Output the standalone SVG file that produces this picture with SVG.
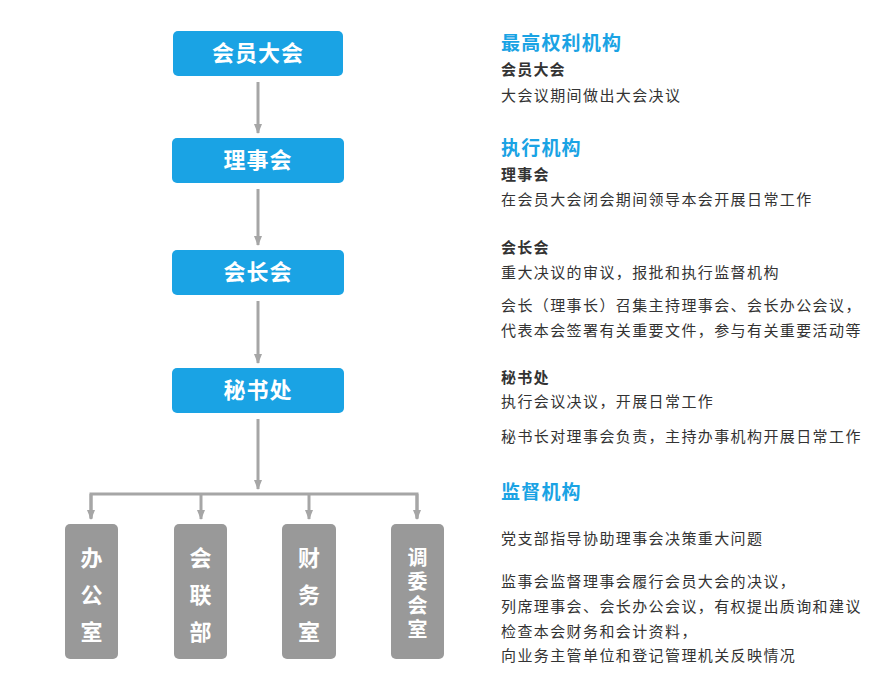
<svg xmlns="http://www.w3.org/2000/svg" width="880" height="691" viewBox="0 0 880 691">
<defs>
<marker id="ah" markerWidth="10" markerHeight="8" refX="9" refY="4" orient="auto" markerUnits="userSpaceOnUse">
<path d="M0,0 L10,4 L0,8 Z" fill="#a6a6a6"/>
</marker>
<style>
.blue{fill:#1aa3e4}
.gray{fill:#999999}
.bt{font-family:"Noto Sans CJK SC",sans-serif;font-weight:bold;font-size:22px;fill:#ffffff;text-anchor:middle;letter-spacing:1px}
.vt{font-family:"Noto Sans CJK SC",sans-serif;font-weight:bold;font-size:22px;fill:#ffffff;text-anchor:middle;writing-mode:vertical-rl;letter-spacing:15px}
.vt4{font-family:"Noto Sans CJK SC",sans-serif;font-weight:bold;font-size:20px;fill:#ffffff;text-anchor:middle;writing-mode:vertical-rl;letter-spacing:4px}
.ln{stroke:#a6a6a6;stroke-width:3;fill:none}
.h{font-family:"Noto Sans CJK SC",sans-serif;font-weight:bold;font-size:19px;fill:#1aa3e4;letter-spacing:1.2px}
.s{font-family:"Noto Sans CJK SC",sans-serif;font-weight:bold;font-size:15px;fill:#333333;letter-spacing:1.2px}
.t{font-family:"Noto Sans CJK SC",sans-serif;font-size:15px;fill:#333333;letter-spacing:1.4px}
</style>
</defs>
<rect width="880" height="691" fill="#ffffff"/>
<g id="connectors">
<line class="ln" x1="258" y1="82" x2="258" y2="133" marker-end="url(#ah)"/>
<line class="ln" x1="258" y1="189" x2="258" y2="245" marker-end="url(#ah)"/>
<line class="ln" x1="258" y1="301" x2="258" y2="363" marker-end="url(#ah)"/>
<line class="ln" x1="258" y1="419" x2="258" y2="489" marker-end="url(#ah)"/>
<polyline class="ln" points="91,518 91,494 417,494 417,518"/>
<line class="ln" x1="91" y1="494" x2="91" y2="519" marker-end="url(#ah)"/>
<line class="ln" x1="201" y1="494" x2="201" y2="519" marker-end="url(#ah)"/>
<line class="ln" x1="309" y1="494" x2="309" y2="519" marker-end="url(#ah)"/>
<line class="ln" x1="417" y1="494" x2="417" y2="519" marker-end="url(#ah)"/>
</g>
<g id="n1"><rect class="blue" x="173" y="31" width="170" height="45" rx="5"/><text class="bt" x="258" y="61">会员大会</text></g>
<g id="n2"><rect class="blue" x="172" y="138" width="172" height="45" rx="5"/><text class="bt" x="258" y="168">理事会</text></g>
<g id="n3"><rect class="blue" x="172" y="250" width="172" height="45" rx="5"/><text class="bt" x="258" y="280">会长会</text></g>
<g id="n4"><rect class="blue" x="172" y="368" width="172" height="45" rx="5"/><text class="bt" x="258" y="398">秘书处</text></g>
<g id="n5"><rect class="gray" x="65" y="524" width="53" height="135" rx="5"/>
<text class="vt" x="91.5" y="602.5">办公室</text></g>
<g id="n6"><rect class="gray" x="174" y="524" width="53" height="135" rx="5"/>
<text class="vt" x="200.5" y="602.5">会联部</text></g>
<g id="n7"><rect class="gray" x="282" y="524" width="54" height="135" rx="5"/>
<text class="vt" x="309" y="602.5">财务室</text></g>
<g id="n8"><rect class="gray" x="391" y="524" width="53" height="135" rx="5"/>
<text class="vt4" x="417.5" y="595.5">调委会室</text></g>
<g id="desc">
<text class="h" x="501" y="50">最高权利机构</text>
<text class="s" x="501" y="75">会员大会</text>
<text class="t" x="501" y="101">大会议期间做出大会决议</text>
<text class="h" x="501" y="155">执行机构</text>
<text class="s" x="501" y="180">理事会</text>
<text class="t" x="501" y="205">在会员大会闭会期间领导本会开展日常工作</text>
<text class="s" x="501" y="253">会长会</text>
<text class="t" x="501" y="278">重大决议的审议，报批和执行监督机构</text>
<text class="t" x="501" y="311">会长（理事长）召集主持理事会、会长办公会议，</text>
<text class="t" x="501" y="336">代表本会签署有关重要文件，参与有关重要活动等</text>
<text class="s" x="501" y="383">秘书处</text>
<text class="t" x="501" y="407">执行会议决议，开展日常工作</text>
<text class="t" x="501" y="442">秘书长对理事会负责，主持办事机构开展日常工作</text>
<text class="h" x="501" y="499">监督机构</text>
<text class="t" x="501" y="544">党支部指导协助理事会决策重大问题</text>
<text class="t" x="501" y="587">监事会监督理事会履行会员大会的决议，</text>
<text class="t" x="501" y="612">列席理事会、会长办公会议，有权提出质询和建议</text>
<text class="t" x="501" y="637">检查本会财务和会计资料，</text>
<text class="t" x="501" y="661">向业务主管单位和登记管理机关反映情况</text>
</g>
</svg>
